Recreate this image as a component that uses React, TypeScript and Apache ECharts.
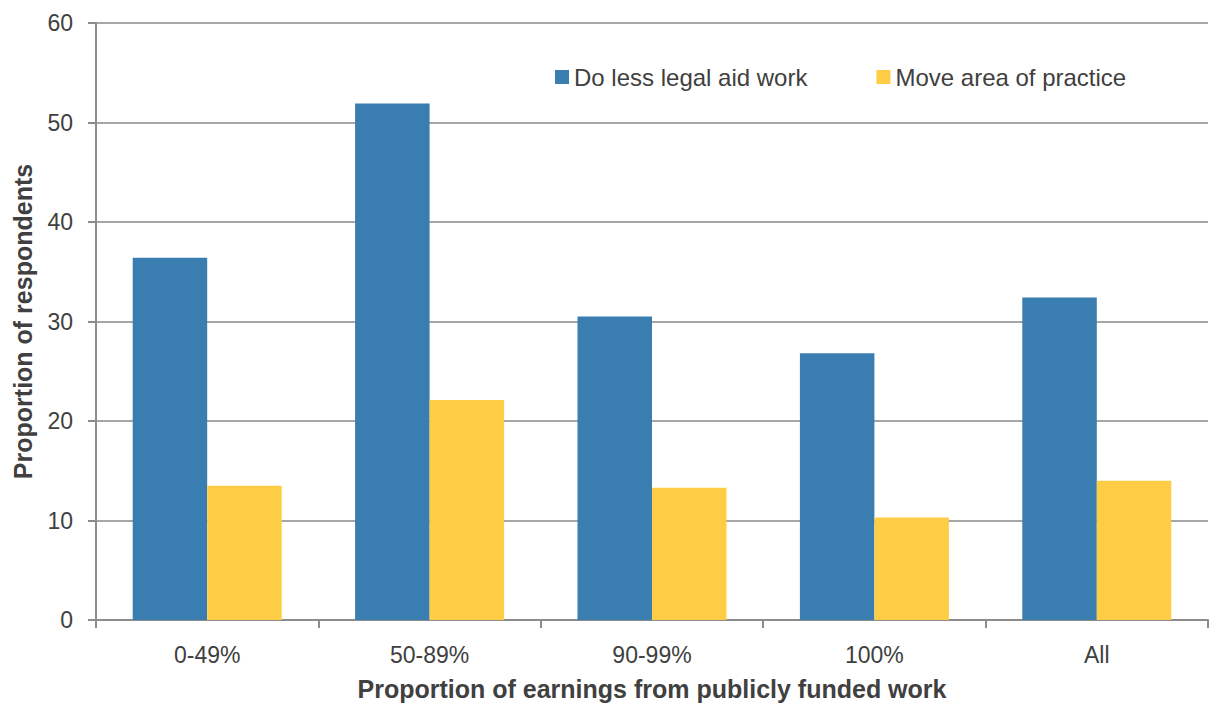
import React, { useEffect, useRef } from "react";
import * as echarts from "echarts";

const categories = ["0-49%", "50-89%", "90-99%", "100%", "All"];
const doLessLegalAid = [36.4, 51.9, 30.5, 26.8, 32.4];
const moveArea = [13.5, 22.1, 13.3, 10.3, 14.0];
const seriesNames = ["Do less legal aid work", "Move area of practice"];

const FONT = "Liberation Sans, Arial, sans-serif";

export default function App() {
  const ref = useRef<HTMLDivElement>(null);
  useEffect(() => {
    if (!ref.current) return;
    const chart = echarts.init(ref.current, undefined, { renderer: "svg" });
    chart.setOption({
      animation: false,
      backgroundColor: "#ffffff",
      textStyle: { fontFamily: FONT },
      legend: {
        data: seriesNames,
        left: 550,
        top: 60,
        itemWidth: 14,
        itemHeight: 14,
        itemGap: 69,
        icon: "rect",
        textStyle: { fontSize: 24, color: "#404040", fontFamily: FONT },
      },
      grid: { left: 96, right: 5, top: 23, bottom: 86 },
      xAxis: {
        type: "category",
        data: categories,
        name: "Proportion of earnings from publicly funded work",
        nameLocation: "middle",
        nameGap: 56,
        nameTextStyle: { fontSize: 25, fontWeight: "bold", color: "#404040", fontFamily: FONT },
        axisLine: { lineStyle: { color: "#8c8c8c", width: 2 } },
        axisTick: { show: true, length: 8, lineStyle: { color: "#8c8c8c", width: 2 } },
        axisLabel: { fontSize: 23, color: "#404040", margin: 23, fontFamily: FONT },
      },
      yAxis: {
        type: "value",
        min: 0,
        max: 60,
        interval: 10,
        name: "Proportion of respondents",
        nameLocation: "middle",
        nameGap: 61,
        nameTextStyle: { fontSize: 25, fontWeight: "bold", color: "#404040", fontFamily: FONT },
        axisLine: { show: true, lineStyle: { color: "#8c8c8c", width: 2 } },
        axisTick: { show: true, length: 8, lineStyle: { color: "#8c8c8c", width: 2 } },
        axisLabel: { fontSize: 23, color: "#404040", margin: 23, fontFamily: FONT },
        splitLine: { lineStyle: { color: "#a6a6a6", width: 2 } },
      },
      series: [
        {
          name: seriesNames[0],
          type: "bar",
          data: doLessLegalAid,
          itemStyle: { color: "#3A7DB0" },
          barGap: "0%",
          barCategoryGap: "33%",
        },
        {
          name: seriesNames[1],
          type: "bar",
          data: moveArea,
          itemStyle: { color: "#FFCD45" },
          barGap: "0%",
          barCategoryGap: "33%",
        },
      ],
    });
    return () => chart.dispose();
  }, []);
  return <div ref={ref} style={{ width: 1213, height: 706, position: "absolute", left: 0, top: 0 }} />;
}
